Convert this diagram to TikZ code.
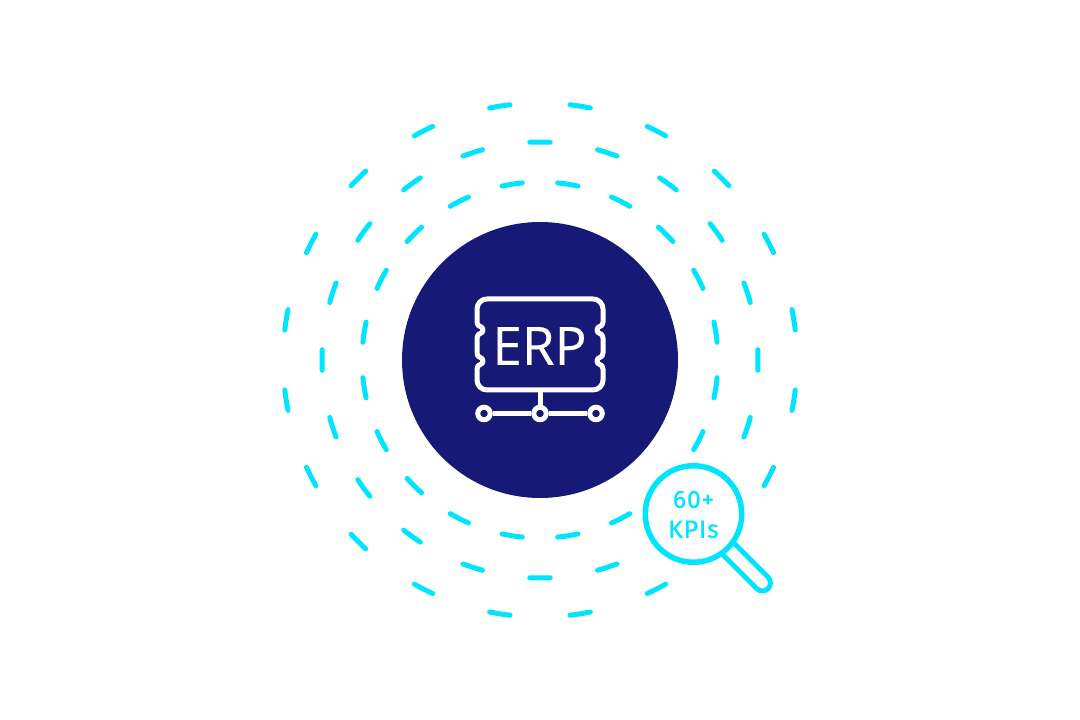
\documentclass[tikz,border=0pt]{standalone}
\usepackage{xcolor}
\usepackage{fontspec}
\setmainfont{Open Sans}
\newfontfamily\erpfont[FakeBold=0.3]{Open Sans}
\newfontfamily\kpifont[LetterSpace=3,FakeBold=0.6]{Fira Sans}
\usetikzlibrary{positioning, calc}
\definecolor{ringcyan}{HTML}{00E5FF}
\definecolor{hubnavy}{HTML}{161975}

\begin{document}
\begin{tikzpicture}[
        x=1pt, y=1pt,
        hub/.style={circle, fill=hubnavy, inner sep=0pt, minimum size=276pt},
        ringdash/.style={draw=ringcyan, line width=5pt, line cap=round},
        iconline/.style={draw=white, line width=5pt, line join=round},
        iconport/.style={circle, draw=white, line width=5pt, fill=hubnavy, inner sep=0pt, minimum size=12.5pt},
        lensring/.style={circle, draw=ringcyan, line width=5.5pt, fill=white, inner sep=0pt, minimum size=96.5pt},
        kpilabel/.style={text=ringcyan, align=center, font=\kpifont\fontsize{25}{30}\selectfont}
        ]
        \useasboundingbox (0,0) rectangle (1080,720);

        \node [hub] (hub) at (540,360) {};

        % the three dashed rings
        \foreach \a in {9,27,...,315,333,351}
            \draw [ringdash] ($(hub.center)+(\a-3.3:178)$) arc [start angle=\a-3.3, end angle=\a+3.3, radius=178];
        \foreach \a in {0,18,...,288,342}
            \draw [ringdash] ($(hub.center)+(\a-2.7:218)$) arc [start angle=\a-2.7, end angle=\a+2.7, radius=218];
        \foreach \a in {9,27,...,297,333,351}
            \draw [ringdash] ($(hub.center)+(\a-2.3:257)$) arc [start angle=\a-2.3, end angle=\a+2.3, radius=257];

        % icon
        \node [text=white, font=\erpfont\fontsize{53}{53}\selectfont] (erp) at (539.5,374) {ERP};
        \draw [iconline] (487,421) -- (593,421) to [out=0, in=90] (603,411)
            -- (603,398) .. controls (603,392) and (597,395) .. (597,390) .. controls (597,385) and (603,388) .. (603,382)
            -- (603,367) .. controls (603,361) and (597,364) .. (597,359) .. controls (597,354) and (603,357) .. (603,351)
            -- (603,340) to [out=270, in=0] (593,330)
            -- (487,330) to [out=180, in=270] (477,340)
            -- (477,351) .. controls (477,357) and (483,354) .. (483,359) .. controls (483,364) and (477,361) .. (477,367)
            -- (477,382) .. controls (477,388) and (483,385) .. (483,390) .. controls (483,395) and (477,392) .. (477,398)
            -- (477,411) to [out=90, in=180] cycle;
        \node [iconport] (portl) at (484,306.5) {};
        \node [iconport] (portm) at (540,306.5) {};
        \node [iconport] (portr) at (596,306.5) {};
        \coordinate (boxfoot) at (540,330);
        \draw [iconline] (portl) -- (portm);
        \draw [iconline] (portm) -- (portr);
        \draw [iconline] (boxfoot) -- (portm);

        % magnifier
        \node [lensring] (lens) at (693.5,206) {};
        \node [kpilabel] (kpi) at ($(lens.center)+(0,-0.5)$) {60+\\KPIs};
        \draw [draw=ringcyan, line width=5pt, line join=round]
            ($(lens.center)+(-45:48)+(45:8)$) -- ++(-45:49.5) arc [start angle=45, end angle=-135, radius=8] -- ++(135:49.5);
\end{tikzpicture}
\end{document}
